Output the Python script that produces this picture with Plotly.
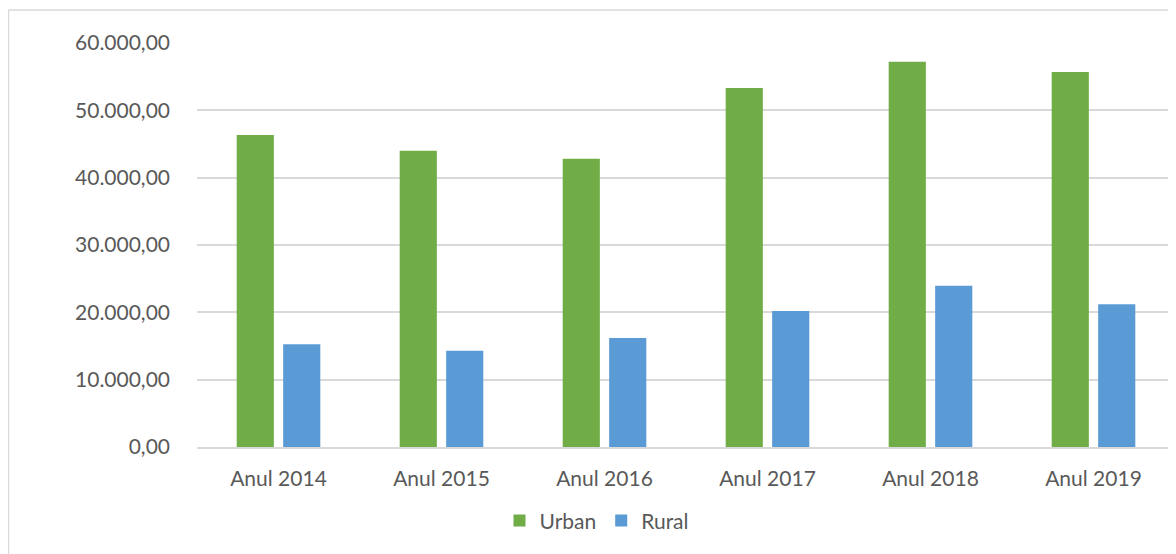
import plotly.graph_objects as go

categories = ["Anul 2014", "Anul 2015", "Anul 2016", "Anul 2017", "Anul 2018", "Anul 2019"]
urban = [46350, 44000, 42800, 53300, 57200, 55700]
rural = [15250, 14300, 16200, 20200, 23950, 21200]

GREEN = "#70AD47"
BLUE = "#5B9BD5"
TEXT = "#595959"
GRID = "#D9D9D9"
FONT = "Lato"
FS = 21

fig = go.Figure()
fig.add_trace(go.Bar(name="Urban", x=categories, y=urban, marker=dict(color=GREEN, line=dict(width=0))))
fig.add_trace(go.Bar(name="Rural", x=categories, y=rural, marker=dict(color=BLUE, line=dict(width=0))))

fig.update_layout(
    width=1168, height=546,
    margin=dict(l=189, r=1, t=35, b=107),
    paper_bgcolor="white", plot_bgcolor="white",
    barmode="group", bargap=0.43, bargroupgap=0.2,
    separators=",.",
    font=dict(family=FONT, size=FS, color=TEXT),
    showlegend=True,
    legend=dict(orientation="h", x=0.409, xanchor="center", y=-0.183, yanchor="middle",
                font=dict(size=FS, color=TEXT), itemsizing="constant", traceorder="normal"),
    xaxis=dict(showgrid=False, showline=True, linecolor=GRID, linewidth=1.5,
               ticks="", ticklabelstandoff=12, tickfont=dict(size=FS, color=TEXT)),
    yaxis=dict(range=[0, 60000], dtick=10000, tickformat=",.2f", showgrid=True,
               gridcolor=GRID, gridwidth=1.5, zeroline=False, showline=False, ticks="",
               ticklabelstandoff=26, tickfont=dict(size=FS, color=TEXT)),
)

# chart frame (top and left edges visible in the crop)
fig.add_shape(type="line", xref="paper", yref="paper", x0=-0.1928, x1=1.01, y0=1.0817, y1=1.0817,
              line=dict(color=GRID, width=1.5))
fig.add_shape(type="line", xref="paper", yref="paper", x0=-0.1928, x1=-0.1928, y0=1.0817, y1=-0.28,
              line=dict(color=GRID, width=1.5))

fig.write_html("out.html")
